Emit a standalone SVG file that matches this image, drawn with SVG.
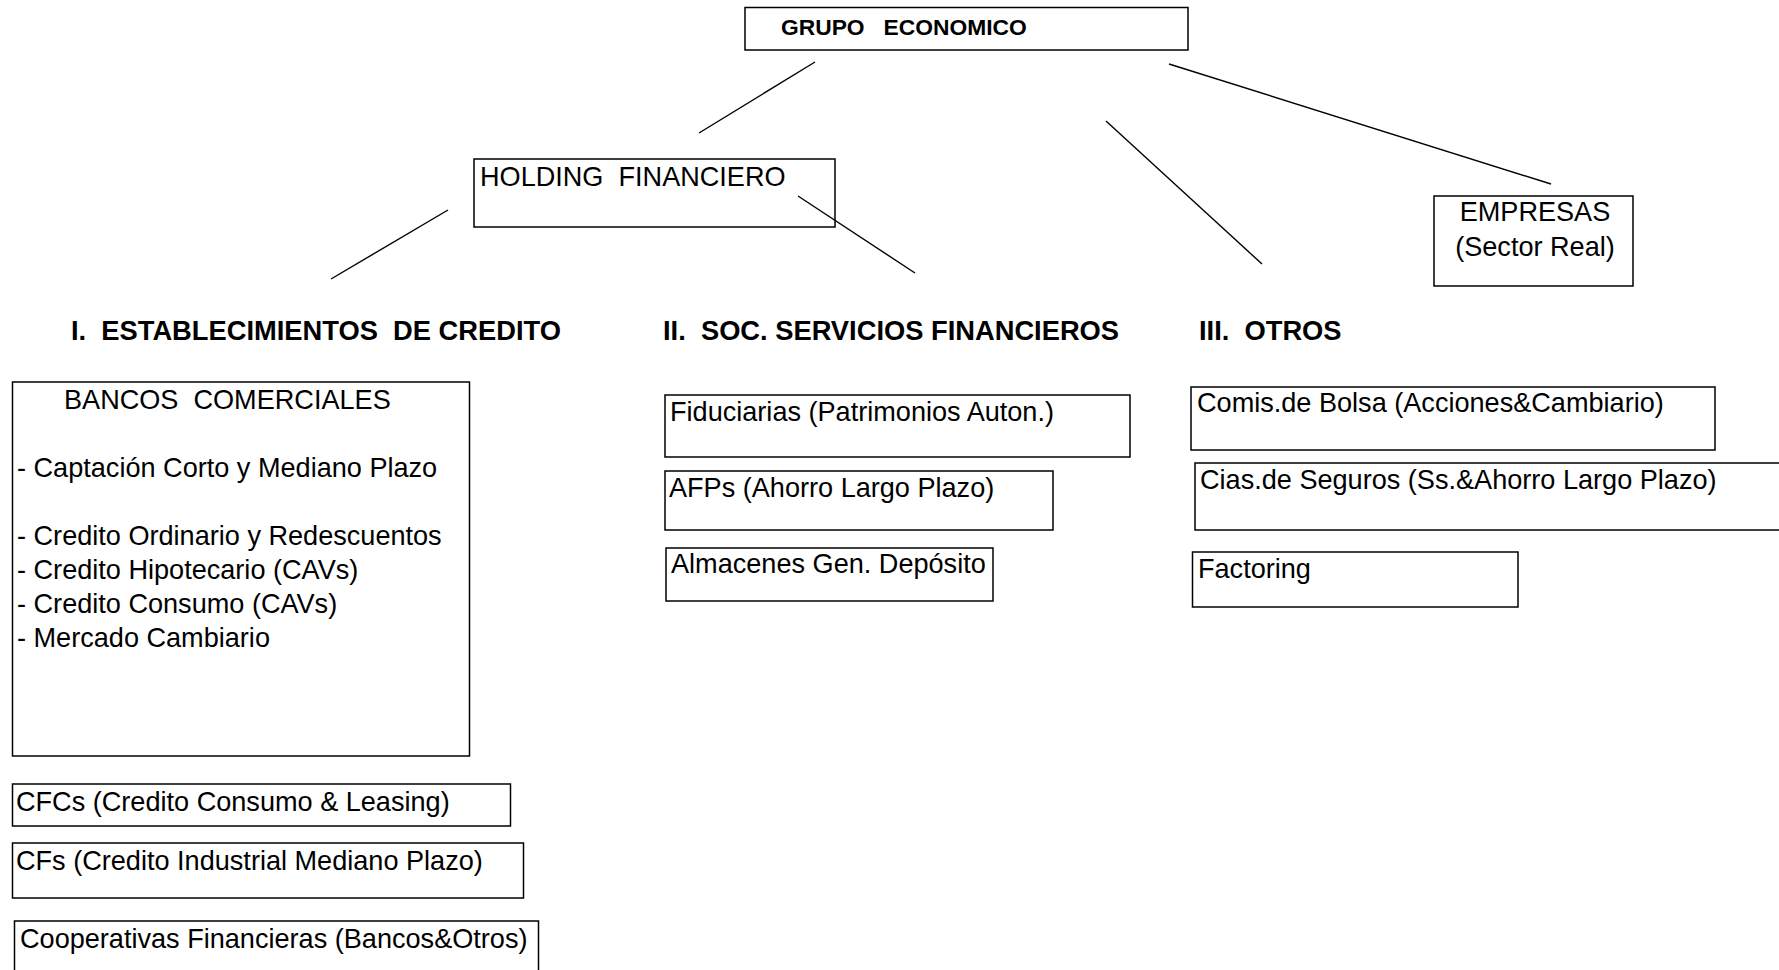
<svg xmlns="http://www.w3.org/2000/svg" width="1779" height="970" viewBox="0 0 1779 970">
<style>
.box{fill:#fff;stroke:#000;stroke-width:1.5}
.t{font-family:"Liberation Sans",Arial,sans-serif;font-size:27.1px;fill:#000}
.b{font-weight:bold;font-size:27.3px}
.g{font-size:22.8px}
.c{stroke:#000;stroke-width:1.4;fill:none}
</style>
<rect width="1779" height="970" fill="#fff"/>
<g id="connectors">
<line class="c" x1="815" y1="62" x2="699" y2="133"/>
<line class="c" x1="1106" y1="121" x2="1262" y2="264"/>
<line class="c" x1="1169" y1="64" x2="1551" y2="184"/>
<line class="c" x1="448" y1="210" x2="331" y2="279"/>
</g>
<g id="grupo">
<rect class="box" x="745" y="7.5" width="443" height="42.5"/>
<text class="t b g" x="781" y="35" xml:space="preserve">GRUPO   ECONOMICO</text>
</g>
<g id="holding">
<rect class="box" x="474" y="159" width="361" height="68"/>
<text class="t" x="480" y="186" xml:space="preserve">HOLDING  FINANCIERO</text>
</g>
<g id="connector-holding-ii">
<line class="c" x1="798" y1="196" x2="915" y2="273"/>
</g>
<g id="empresas">
<rect class="box" x="1434" y="196" width="199" height="90"/>
<text class="t" x="1535" y="221" text-anchor="middle">EMPRESAS</text>
<text class="t" x="1535" y="256" text-anchor="middle">(Sector Real)</text>
</g>
<g id="heading-i"><text class="t b" x="71" y="340" xml:space="preserve">I.  ESTABLECIMIENTOS  DE CREDITO</text></g>
<g id="heading-ii"><text class="t b" x="663" y="340" xml:space="preserve">II.  SOC. SERVICIOS FINANCIEROS</text></g>
<g id="heading-iii"><text class="t b" x="1199" y="340" xml:space="preserve">III.  OTROS</text></g>
<g id="bancos">
<rect class="box" x="12.5" y="382" width="457" height="374"/>
<text class="t" x="64" y="409" xml:space="preserve">BANCOS  COMERCIALES</text>
<text class="t" x="17" y="477">- Captación Corto y Mediano Plazo</text>
<text class="t" x="17" y="545">- Credito Ordinario y Redescuentos</text>
<text class="t" x="17" y="579">- Credito Hipotecario (CAVs)</text>
<text class="t" x="17" y="613">- Credito Consumo (CAVs)</text>
<text class="t" x="17" y="647">- Mercado Cambiario</text>
</g>
<g id="cfcs">
<rect class="box" x="12.5" y="784" width="498" height="42"/>
<text class="t" x="16" y="811">CFCs (Credito Consumo &amp; Leasing)</text>
</g>
<g id="cfs">
<rect class="box" x="12.5" y="843" width="511" height="55"/>
<text class="t" x="16" y="870">CFs (Credito Industrial Mediano Plazo)</text>
</g>
<g id="cooperativas">
<rect class="box" x="14.5" y="921" width="524" height="60"/>
<text class="t" x="20" y="948">Cooperativas Financieras (Bancos&amp;Otros)</text>
</g>
<g id="fiduciarias">
<rect class="box" x="665" y="395" width="465" height="62"/>
<text class="t" x="670" y="421">Fiduciarias (Patrimonios Auton.)</text>
</g>
<g id="afps">
<rect class="box" x="665" y="471" width="388" height="59"/>
<text class="t" x="669" y="497">AFPs (Ahorro Largo Plazo)</text>
</g>
<g id="almacenes">
<rect class="box" x="666" y="548" width="327" height="53"/>
<text class="t" x="671" y="573">Almacenes Gen. Depósito</text>
</g>
<g id="comis">
<rect class="box" x="1191" y="387" width="524" height="63"/>
<text class="t" x="1197" y="412">Comis.de Bolsa (Acciones&amp;Cambiario)</text>
</g>
<g id="cias">
<rect class="box" x="1195" y="463" width="600" height="67"/>
<text class="t" x="1200" y="489">Cias.de Seguros (Ss.&amp;Ahorro Largo Plazo)</text>
</g>
<g id="factoring">
<rect class="box" x="1192.5" y="552" width="325.5" height="55"/>
<text class="t" x="1198" y="578">Factoring</text>
</g>
</svg>
